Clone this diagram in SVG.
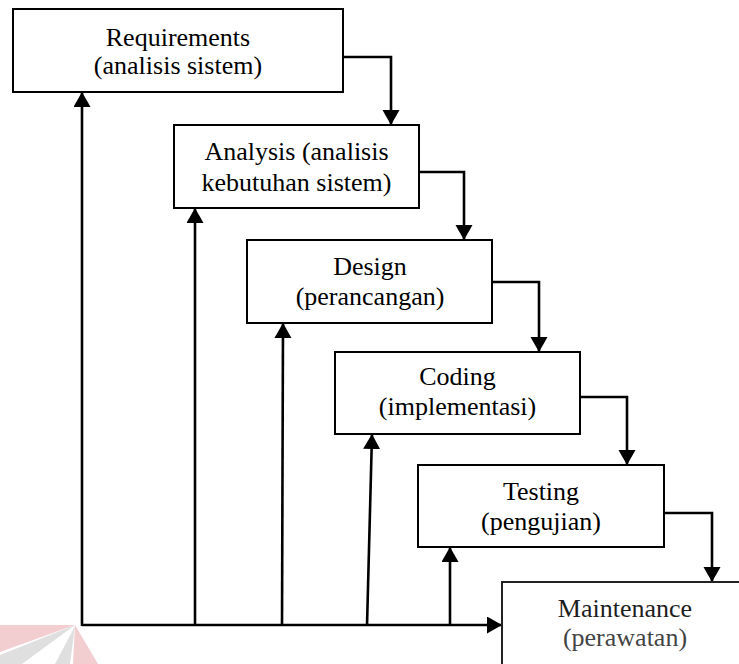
<svg xmlns="http://www.w3.org/2000/svg" width="739" height="664" viewBox="0 0 739 664">
  <style>
    .box { fill: #ffffff; stroke: #000000; stroke-width: 2; }
    .lbl { font-family: "Liberation Serif", "Times New Roman", serif; font-size: 26px; fill: #000000; text-anchor: middle; }
    .con { fill: none; stroke: #000000; stroke-width: 2.6; }
  </style>
  <defs>
    <marker id="arrow" markerUnits="userSpaceOnUse" markerWidth="17" markerHeight="18" refX="15" refY="8.5" orient="auto" viewBox="0 0 17 18">
      <path d="M0,0 L15,8.5 L0,17 z" fill="#000000"/>
    </marker>
  </defs>
  <rect width="739" height="664" fill="#ffffff"/>
  <g id="watermark" opacity="0.9">
    <polygon points="0,625 75,625 0,652" fill="#f1c9cd"/>
    <polygon points="75,625 0,655 0,664 22,664" fill="#dcdcdc"/>
    <polygon points="75,626 55,664 70,664" fill="#dcdcdc"/>
    <polygon points="75,625 98,664 73,664" fill="#f1c9cd"/>
  </g>
  <g id="connectors">
    <polyline class="con" points="343,57 391,57 391,125" marker-end="url(#arrow)"/>
    <polyline class="con" points="419,172 464,172 464,240" marker-end="url(#arrow)"/>
    <polyline class="con" points="492,282 539,282 539,352" marker-end="url(#arrow)"/>
    <polyline class="con" points="580,397 627,397 627,465" marker-end="url(#arrow)"/>
    <polyline class="con" points="664,513 712,513 712,582" marker-end="url(#arrow)"/>
    <line class="con" x1="82" y1="625" x2="502" y2="625" marker-end="url(#arrow)"/>
    <line class="con" x1="82" y1="626" x2="82" y2="92" marker-end="url(#arrow)"/>
    <line class="con" x1="195" y1="626" x2="195" y2="208" marker-end="url(#arrow)"/>
    <line class="con" x1="282" y1="626" x2="283" y2="323" marker-end="url(#arrow)"/>
    <line class="con" x1="367" y1="626" x2="372" y2="434" marker-end="url(#arrow)"/>
    <line class="con" x1="450" y1="626" x2="450" y2="547" marker-end="url(#arrow)"/>
  </g>
  <g id="requirements">
    <rect class="box" x="13" y="9" width="330" height="83"/>
    <text class="lbl" x="178" y="45.5">Requirements</text>
    <text class="lbl" x="178" y="74">(analisis sistem)</text>
  </g>
  <g id="analysis">
    <rect class="box" x="174" y="125" width="245" height="83"/>
    <text class="lbl" x="296.5" y="160">Analysis (analisis</text>
    <text class="lbl" x="296.5" y="190.5">kebutuhan sistem)</text>
  </g>
  <g id="design">
    <rect class="box" x="247" y="240" width="245" height="83"/>
    <text class="lbl" x="370" y="275">Design</text>
    <text class="lbl" x="370" y="305">(perancangan)</text>
  </g>
  <g id="coding">
    <rect class="box" x="335" y="352" width="245" height="82"/>
    <text class="lbl" x="457.5" y="385">Coding</text>
    <text class="lbl" x="457.5" y="415">(implementasi)</text>
  </g>
  <g id="testing">
    <rect class="box" x="418" y="465" width="246" height="82"/>
    <text class="lbl" x="541" y="500">Testing</text>
    <text class="lbl" x="541" y="530">(pengujian)</text>
  </g>
  <g id="maintenance">
    <rect class="box" x="502" y="582" width="260" height="100" style="stroke:#222222"/>
    <text class="lbl" x="625" y="617" style="fill:#1e1e1e">Maintenance</text>
    <text class="lbl" x="625" y="645.5" style="fill:#444444">(perawatan)</text>
  </g>
</svg>
